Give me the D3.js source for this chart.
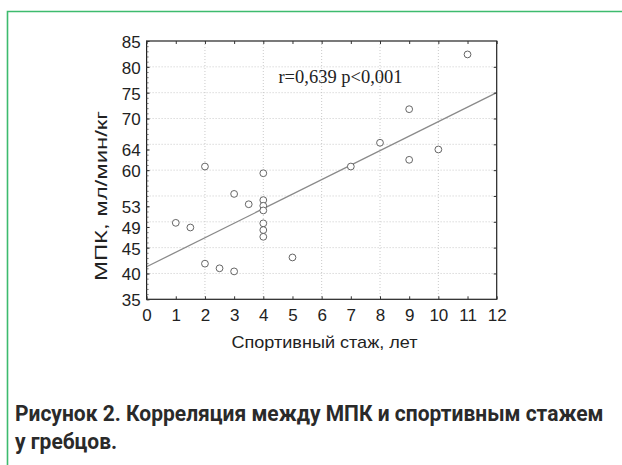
<!DOCTYPE html>
<html>
<head>
<meta charset="utf-8">
<script src="https://cdn.jsdelivr.net/npm/d3@7/dist/d3.min.js"></script>
<style>
  html, body { margin: 0; padding: 0; background: #fff; }
  svg { display: block; }
</style>
</head>
<body>
<svg id="fig" width="622" height="465"></svg>
<script>
// Sporting experience (years) and VO2max (ml/min/kg) for each rower
const experienceYears = [1, 1.5, 2, 2.5, 3, 3, 3.5, 4, 4, 4, 4, 4, 4, 4, 2, 5, 7, 8, 9, 9, 10, 11];
const vo2max = [49.8, 48.9, 41.9, 41.0, 40.4, 55.4, 53.4, 59.4, 54.2, 53.1, 52.2, 49.7, 48.4, 47.1, 60.7, 43.1, 60.7, 65.3, 71.8, 62.0, 64.0, 82.4];

// Fitted regression line (value at x = 0 and x = 12)
const fitX = [0, 12];
const fitY = [41.3, 75.0];

// Axis ticks
const xTicks = [0, 1, 2, 3, 4, 5, 6, 7, 8, 9, 10, 11, 12];
const xGrid = [2, 4, 6, 8, 10];
const yTickValues = [35, 40, 45, 49, 53, 60, 64, 70, 75, 80, 85];
const yTickLabels = ["35", "40", "45", "49", "53", "60", "64", "70", "75", "80", "85"];
const yGrid = [40, 45, 50, 55, 60, 65, 70, 75, 80];
const yMinor = d3.range(35, 86, 1);

const annotation = "r=0,639 p<0,001";
const xTitle = "Спортивный стаж, лет";
const yTitle = "МПК, мл/мин/кг";
const captionLines = ["Рисунок 2. Корреляция между МПК и спортивным стажем", "у гребцов."];

const svg = d3.select("#fig");
const sans = "Liberation Sans, Arial, sans-serif";

// Green frame of the figure
svg.append("path")
  .attr("d", "M7.5,465 V11.5 H622")
  .attr("fill", "none")
  .attr("stroke", "#3dbb6e")
  .attr("stroke-width", 1.6);

const plot = { left: 146.6, right: 496.7, top: 41, bottom: 299.3 };
const x = d3.scaleLinear().domain([0, 12]).range([plot.left, plot.right]);
const y = d3.scaleLinear().domain([35, 85]).range([plot.bottom, plot.top]);

const g = svg.append("g");

// Dotted grid
g.selectAll(".gx").data(xGrid).join("line")
  .attr("x1", d => x(d)).attr("x2", d => x(d))
  .attr("y1", plot.top).attr("y2", plot.bottom)
  .attr("stroke", "#bdbdbd").attr("stroke-width", 0.8)
  .attr("stroke-dasharray", "1,2");
g.selectAll(".gy").data(yGrid).join("line")
  .attr("x1", plot.left).attr("x2", plot.right)
  .attr("y1", d => y(d)).attr("y2", d => y(d))
  .attr("stroke", "#bdbdbd").attr("stroke-width", 0.8)
  .attr("stroke-dasharray", "1,2");

// Regression line
g.append("line")
  .attr("x1", x(fitX[0])).attr("y1", y(fitY[0]))
  .attr("x2", x(fitX[1])).attr("y2", y(fitY[1]))
  .attr("stroke", "#8a8a8a").attr("stroke-width", 1.3);

// Data points
g.selectAll(".pt").data(experienceYears).join("circle")
  .attr("cx", d => x(d))
  .attr("cy", (d, i) => y(vo2max[i]))
  .attr("r", 3.4)
  .attr("fill", "#fff")
  .attr("stroke", "#555")
  .attr("stroke-width", 0.9);

// Frame
g.append("rect")
  .attr("x", plot.left).attr("y", plot.top)
  .attr("width", plot.right - plot.left).attr("height", plot.bottom - plot.top)
  .attr("fill", "none").attr("stroke", "#222").attr("stroke-width", 1.2);

// Inward ticks on the bottom and top
const bottomAxis = svg.append("g")
  .attr("transform", `translate(0,${plot.bottom})`)
  .call(d3.axisBottom(x).tickValues(xTicks).tickSize(-3).tickPadding(10));
bottomAxis.select(".domain").remove();
bottomAxis.selectAll("line").attr("stroke", "#333");
bottomAxis.selectAll("text")
  .attr("font-family", sans)
  .attr("font-size", 17).attr("fill", "#222");

const topAxis = svg.append("g")
  .attr("transform", `translate(0,${plot.top})`)
  .call(d3.axisTop(x).tickValues(xTicks).tickSize(-3).tickFormat(""));
topAxis.select(".domain").remove();
topAxis.selectAll("line").attr("stroke", "#333");

// Left axis: minor ticks every unit, labelled major ticks
const leftMinor = svg.append("g")
  .attr("transform", `translate(${plot.left},0)`)
  .call(d3.axisLeft(y).tickValues(yMinor).tickSize(-2).tickFormat(""));
leftMinor.select(".domain").remove();
leftMinor.selectAll("line").attr("stroke", "#555").attr("stroke-width", 0.8);

const leftAxis = svg.append("g")
  .attr("transform", `translate(${plot.left},0)`)
  .call(d3.axisLeft(y).tickValues(yTickValues).tickSize(-3).tickPadding(6)
    .tickFormat((d, i) => yTickLabels[i]));
leftAxis.select(".domain").remove();
leftAxis.selectAll("line").attr("stroke", "#333");
leftAxis.selectAll("text")
  .attr("font-family", sans)
  .attr("font-size", 17).attr("fill", "#222")
  .attr("dy", "0.38em");

const rightAxis = svg.append("g")
  .attr("transform", `translate(${plot.right},0)`)
  .call(d3.axisRight(y).tickValues(yGrid).tickSize(-3).tickFormat(""));
rightAxis.select(".domain").remove();
rightAxis.selectAll("line").attr("stroke", "#333");

// Correlation annotation
svg.append("text")
  .attr("x", x(4.52)).attr("y", y(76.9))
  .attr("font-family", "Liberation Serif, Times New Roman, serif")
  .attr("font-size", 18).attr("fill", "#222")
  .attr("textLength", 124).attr("lengthAdjust", "spacingAndGlyphs")
  .text(annotation);

// Axis titles
svg.append("text")
  .attr("x", 324.5).attr("y", 348)
  .attr("text-anchor", "middle")
  .attr("font-family", sans)
  .attr("font-size", 17).attr("fill", "#222")
  .attr("textLength", 186).attr("lengthAdjust", "spacingAndGlyphs")
  .text(xTitle);

svg.append("text")
  .attr("transform", `translate(107,196) rotate(-90)`)
  .attr("text-anchor", "middle")
  .attr("font-family", sans)
  .attr("font-size", 17).attr("fill", "#222")
  .attr("textLength", 170).attr("lengthAdjust", "spacingAndGlyphs")
  .text(yTitle);

// Caption, set in a bold face narrowed horizontally
const capFont = 22.5;
const capGroup = svg.append("g");
const caps = capGroup.selectAll(".cap").data(captionLines).join("text")
  .attr("x", 0)
  .attr("y", (d, i) => i * 28)
  .attr("font-family", "Roboto, Noto Sans, sans-serif")
  .attr("font-weight", 700)
  .attr("font-size", capFont)
  .attr("fill", "#2a2a2a")
  .text(d => d);
const natural = caps.nodes()[0].getComputedTextLength();
const squeeze = 589 / natural;
capGroup.attr("transform", `translate(15,421) scale(${squeeze},1)`);
</script>
</body>
</html>
